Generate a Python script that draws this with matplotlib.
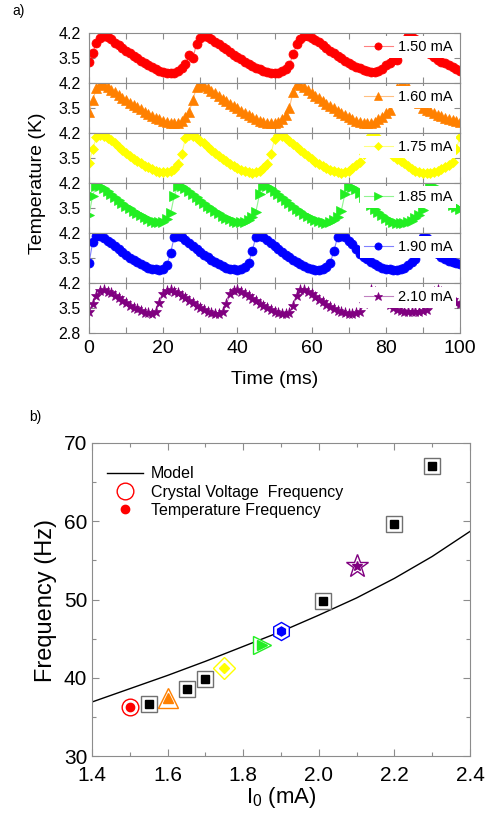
import numpy as np
import matplotlib
matplotlib.use('Agg')
import matplotlib.pyplot as plt
from matplotlib.lines import Line2D
from matplotlib.ticker import MultipleLocator, FormatStrFormatter

plt.rcParams['font.family'] = ['Liberation Sans', 'DejaVu Sans']
plt.rcParams['mathtext.default'] = 'regular'

# ---------------- panel a data (temperature traces, K) ----------------
time_ms = list(range(101))

temp_150 = [3.40, 3.65, 3.92, 4.06, 4.11, 4.10, 4.02, 3.93, 3.86, 3.78,
            3.70, 3.63, 3.56, 3.50, 3.43, 3.36, 3.31, 3.25, 3.20, 3.15,
            3.11, 3.09, 3.07, 3.08, 3.14, 3.22, 3.32, 3.58, 3.50, 3.90,
            4.06, 4.11, 4.10, 4.04, 3.96, 3.89, 3.81, 3.74, 3.66, 3.59,
            3.53, 3.46, 3.40, 3.34, 3.28, 3.23, 3.18, 3.13, 3.10, 3.08,
            3.07, 3.09, 3.13, 3.20, 3.30, 3.60, 3.88, 4.04, 4.11, 4.12,
            4.07, 4.01, 3.94, 3.86, 3.79, 3.71, 3.64, 3.57, 3.50, 3.43,
            3.36, 3.31, 3.25, 3.21, 3.17, 3.13, 3.11, 3.10, 3.14, 3.20,
            3.30, 3.37, 3.44, 3.45, 3.70, 4.00, 4.12, 4.10, 4.02, 3.94,
            3.85, 3.74, 3.62, 3.52, 3.45, 3.40, 3.35, 3.30, 3.24, 3.18,
            3.13]

temp_160 = [3.38, 3.72, 4.05, 4.16, 4.15, 4.09, 4.01, 3.94, 3.86, 3.79,
            3.72, 3.65, 3.58, 3.52, 3.46, 3.40, 3.34, 3.29, 3.23, 3.18,
            3.14, 3.10, 3.08, 3.07, 3.09, 3.14, 3.24, 3.40, 3.72, 4.10,
            4.16, 4.13, 4.06, 3.98, 3.91, 3.84, 3.76, 3.69, 3.62, 3.55,
            3.49, 3.43, 3.37, 3.31, 3.25, 3.20, 3.15, 3.11, 3.08, 3.07,
            3.08, 3.12, 3.19, 3.30, 3.50, 3.95, 4.16, 4.14, 4.08, 4.00,
            3.92, 3.84, 3.77, 3.70, 3.62, 3.55, 3.49, 3.42, 3.36, 3.30,
            3.24, 3.19, 3.14, 3.10, 3.08, 3.07, 3.08, 3.12, 3.19, 3.25,
            3.35, 3.45, 3.70, 4.05, 4.16, 4.15, 4.08, 3.92, 3.78, 3.63,
            3.50, 3.45, 3.41, 3.36, 3.31, 3.27, 3.23, 3.20, 3.16, 3.13,
            3.11]

temp_175 = [3.35, 3.75, 4.08, 4.14, 4.13, 4.07, 4.00, 3.91, 3.82, 3.73,
            3.64, 3.56, 3.48, 3.41, 3.35, 3.29, 3.24, 3.19, 3.15, 3.12,
            3.10, 3.10, 3.13, 3.19, 3.32, 3.62, 4.05, 4.14, 4.12, 4.07,
            3.99, 3.91, 3.82, 3.73, 3.64, 3.56, 3.48, 3.41, 3.34, 3.28,
            3.22, 3.17, 3.13, 3.10, 3.09, 3.10, 3.14, 3.21, 3.33, 3.60,
            4.02, 4.14, 4.13, 4.07, 3.99, 3.90, 3.81, 3.72, 3.63, 3.55,
            3.47, 3.40, 3.33, 3.27, 3.22, 3.17, 3.13, 3.10, 3.09, 3.11,
            3.15, 3.21, 3.30, 3.38, 3.60, 4.00, 4.14, 4.13, 4.05, 3.95,
            3.82, 3.68, 3.55, 3.46, 3.43, 3.36, 3.28, 3.20, 3.14, 3.10,
            3.08, 3.07, 3.08, 3.10, 3.13, 3.18, 3.24, 3.31, 3.40, 3.75,
            4.10]

temp_185 = [3.30, 3.85, 4.12, 4.11, 4.05, 3.98, 3.90, 3.82, 3.73, 3.65,
            3.57, 3.50, 3.43, 3.36, 3.30, 3.24, 3.19, 3.14, 3.11, 3.10,
            3.12, 3.20, 3.35, 3.85, 4.13, 4.12, 4.06, 3.98, 3.90, 3.81,
            3.73, 3.64, 3.56, 3.49, 3.42, 3.35, 3.29, 3.23, 3.18, 3.14,
            3.11, 3.10, 3.11, 3.16, 3.25, 3.40, 3.90, 4.13, 4.11, 4.05,
            3.97, 3.89, 3.80, 3.72, 3.63, 3.55, 3.48, 3.41, 3.34, 3.28,
            3.22, 3.17, 3.13, 3.10, 3.09, 3.11, 3.16, 3.26, 3.42, 3.90,
            4.13, 4.10, 4.02, 3.92, 3.81, 3.70, 3.58, 3.47, 3.40, 3.30,
            3.22, 3.16, 3.11, 3.09, 3.08, 3.09, 3.11, 3.15, 3.22, 3.30,
            3.45, 3.90, 4.13, 4.12, 4.00, 3.88, 3.76, 3.66, 3.58, 3.52,
            3.47]

temp_190 = [3.35, 3.95, 4.12, 4.12, 4.06, 3.99, 3.91, 3.83, 3.74, 3.66,
            3.58, 3.51, 3.44, 3.38, 3.32, 3.27, 3.23, 3.20, 3.18, 3.17,
            3.20, 3.30, 3.65, 4.10, 4.12, 4.08, 4.00, 3.92, 3.84, 3.75,
            3.67, 3.59, 3.52, 3.45, 3.39, 3.33, 3.28, 3.23, 3.20, 3.18,
            3.17, 3.19, 3.24, 3.35, 3.70, 4.10, 4.12, 4.08, 4.00, 3.92,
            3.84, 3.75, 3.67, 3.59, 3.52, 3.45, 3.39, 3.33, 3.28, 3.23,
            3.19, 3.17, 3.17, 3.19, 3.24, 3.35, 3.70, 4.08, 4.12, 4.08,
            3.98, 3.90, 3.74, 3.62, 3.52, 3.46, 3.38, 3.32, 3.27, 3.23,
            3.20, 3.18, 3.17, 3.17, 3.19, 3.23, 3.30, 3.38, 3.46, 3.80,
            4.10, 4.05, 3.90, 3.75, 3.62, 3.52, 3.46, 3.42, 3.39, 3.36,
            3.34]

temp_210 = [3.40, 3.62, 3.85, 3.98, 4.00, 3.96, 3.91, 3.84, 3.77, 3.70,
            3.63, 3.57, 3.51, 3.46, 3.41, 3.37, 3.35, 3.34, 3.40, 3.65,
            3.90, 3.99, 4.00, 3.96, 3.91, 3.84, 3.77, 3.70, 3.63, 3.56,
            3.50, 3.45, 3.40, 3.36, 3.34, 3.33, 3.38, 3.60, 3.88, 3.99,
            4.00, 3.96, 3.90, 3.83, 3.76, 3.69, 3.62, 3.56, 3.50, 3.45,
            3.40, 3.36, 3.34, 3.33, 3.37, 3.55, 3.85, 4.00, 4.01, 3.96,
            3.89, 3.81, 3.73, 3.66, 3.59, 3.52, 3.47, 3.42, 3.38, 3.35,
            3.34, 3.33, 3.35, 3.40, 3.62, 3.90, 4.00, 3.96, 3.88, 3.78,
            3.68, 3.58, 3.50, 3.45, 3.42, 3.40, 3.39, 3.39, 3.38, 3.39,
            3.41, 3.44, 3.70, 3.95, 4.00, 3.96, 3.88, 3.80, 3.72, 3.64,
            3.60]

traces = [temp_150, temp_160, temp_175, temp_185, temp_190, temp_210]
trace_labels = ['1.50 mA', '1.60 mA', '1.75 mA', '1.85 mA', '1.90 mA', '2.10 mA']
trace_colors = ['#ff0000', '#ff8000', '#ffff00', '#22ee22', '#0000ff', '#800080']
trace_lines = ['#ff8080', '#ffbf80', '#ffff80', '#90f590', '#8080ff', '#c080c0']
trace_markers = ['o', '^', 'D', '>', 'o', '*']
trace_msize = [6.5, 6.5, 5.0, 7.0, 6.5, 8.0]

# ---------------- panel b data (frequency, Hz) ----------------
model_current = [1.4, 1.5, 1.6, 1.7, 1.8, 1.9, 2.0, 2.1, 2.2, 2.3, 2.4]
model_freq = [36.9, 38.6, 40.3, 42.1, 44.0, 45.9, 48.0, 50.2, 52.7, 55.5, 58.7]

sample_current = [1.50, 1.60, 1.75, 1.85, 1.90, 2.10]
sample_freq = [36.2, 37.4, 41.2, 44.2, 46.0, 54.3]

extra_current = [1.55, 1.65, 1.70, 2.01, 2.20, 2.30]
extra_freq = [36.7, 38.6, 39.9, 49.8, 59.7, 67.0]

outer_markers = ['o', '^', 'D', '>', 'h', '*']
outer_size = [12, 14, 11.5, 13, 13, 17]
inner_markers = ['o', '^', 'D', '>', 'h', '*']
inner_size = [6, 7, 5.5, 6.5, 6.5, 7.5]

SPINE = '#8c8c8c'

fig = plt.figure(figsize=(4.91, 8.18), dpi=100)
W, H = 491.0, 818.0

# ---------------- panel a ----------------
left_a, right_a, top_a, strip_h = 89, 460, 33, 50
for i, (vals, lab) in enumerate(zip(traces, trace_labels)):
    y0 = top_a + i * strip_h
    ax = fig.add_axes([left_a / W, 1 - (y0 + strip_h) / H,
                       (right_a - left_a) / W, strip_h / H])
    ax.plot(time_ms, vals, color=trace_lines[i], lw=0.8,
            marker=trace_markers[i], ms=trace_msize[i],
            mfc=trace_colors[i], mec=trace_colors[i], mew=0.5, label=lab)
    ax.set_xlim(0, 100)
    ax.set_ylim(2.8, 4.2)
    if i == len(traces) - 1:
        ax.set_yticks([2.8, 3.5, 4.2])
    else:
        ax.set_yticks([3.5, 4.2])
    ax.yaxis.set_major_formatter(FormatStrFormatter('%.1f'))
    ax.xaxis.set_major_locator(MultipleLocator(20))
    ax.xaxis.set_minor_locator(MultipleLocator(10))
    ax.tick_params(which='both', direction='in', top=True, right=True,
                   color=SPINE, width=0.8, length=4)
    ax.tick_params(axis='y', labelsize=11.5, pad=6)
    ax.tick_params(axis='x', labelsize=14, pad=5)
    if i != len(traces) - 1:
        ax.tick_params(axis='x', labelbottom=False)
    for sp in ax.spines.values():
        sp.set_color(SPINE)
        sp.set_linewidth(0.8)
    # opaque legend box, hides the data behind it as in the original
    ax.legend(loc='upper right', bbox_to_anchor=(0.99, 0.93),
              borderaxespad=0, frameon=True, fancybox=False,
              facecolor='white', edgecolor='none', framealpha=1,
              fontsize=10.5, handlelength=2.0, handletextpad=0.35,
              borderpad=0.25, markerscale=0.8)

fig.text(37 / W, 1 - 183 / H, 'Temperature (K)', rotation=90,
         ha='center', va='center', fontsize=14)
fig.text(275 / W, 1 - 380 / H, 'Time (ms)', ha='center', va='center',
         fontsize=14)
fig.text(19 / W, 1 - 11 / H, 'a)', ha='center', va='center', fontsize=10)

# ---------------- panel b ----------------
axb = fig.add_axes([92 / W, 1 - 756 / H, (470 - 92) / W, (756 - 443) / H])
axb.plot(model_current, model_freq, color='black', lw=1.0, label='Model')

for x, y in zip(extra_current, extra_freq):
    axb.plot([x], [y], ls='none', marker='s', ms=11, mfc='white',
             mec='#707070', mew=1.0)
    axb.plot([x], [y], ls='none', marker='s', ms=5.5, mfc='black',
             mec='black')

for k, (x, y) in enumerate(zip(sample_current, sample_freq)):
    axb.plot([x], [y], ls='none', marker=outer_markers[k], ms=outer_size[k],
             mfc='white', mec=trace_colors[k], mew=1.0)
    axb.plot([x], [y], ls='none', marker=inner_markers[k], ms=inner_size[k],
             mfc=trace_colors[k], mec=trace_colors[k])

axb.set_xlim(1.4, 2.4)
axb.set_ylim(30, 70)
axb.xaxis.set_major_locator(MultipleLocator(0.2))
axb.xaxis.set_minor_locator(MultipleLocator(0.1))
axb.yaxis.set_major_locator(MultipleLocator(10))
axb.yaxis.set_minor_locator(MultipleLocator(5))
axb.xaxis.set_major_formatter(FormatStrFormatter('%.1f'))
axb.tick_params(which='both', direction='in', top=True, right=True,
                color=SPINE, width=0.8, labelsize=15)
axb.tick_params(which='major', length=5)
axb.tick_params(which='minor', length=3)
axb.tick_params(axis='x', pad=7)
axb.tick_params(axis='y', pad=3.5)
for sp in axb.spines.values():
    sp.set_color(SPINE)
    sp.set_linewidth(0.8)

handles = [
    Line2D([], [], color='black', lw=1.0),
    Line2D([], [], ls='none', marker='o', ms=12, mfc='white',
           mec='#ff0000', mew=1.0),
    Line2D([], [], ls='none', marker='o', ms=6, mfc='#ff0000',
           mec='#ff0000'),
]
axb.legend(handles, ['Model', 'Crystal Voltage  Frequency',
                     'Temperature Frequency'],
           loc='upper left', bbox_to_anchor=(0.04, 0.925), borderaxespad=0,
           borderpad=0, frameon=False, fontsize=11.5, handlelength=2.25,
           handletextpad=0.5, labelspacing=0.2)

fig.text(46 / W, 1 - 600 / H, 'Frequency (Hz)', rotation=90,
         ha='center', va='center', fontsize=17)
fig.text(281 / W, 1 - 797 / H, r'I$_0$ (mA)', ha='center', va='center',
         fontsize=16)
fig.text(35 / W, 1 - 417 / H, 'b)', ha='center', va='center', fontsize=10)

fig.savefig('out.png', dpi=100)
